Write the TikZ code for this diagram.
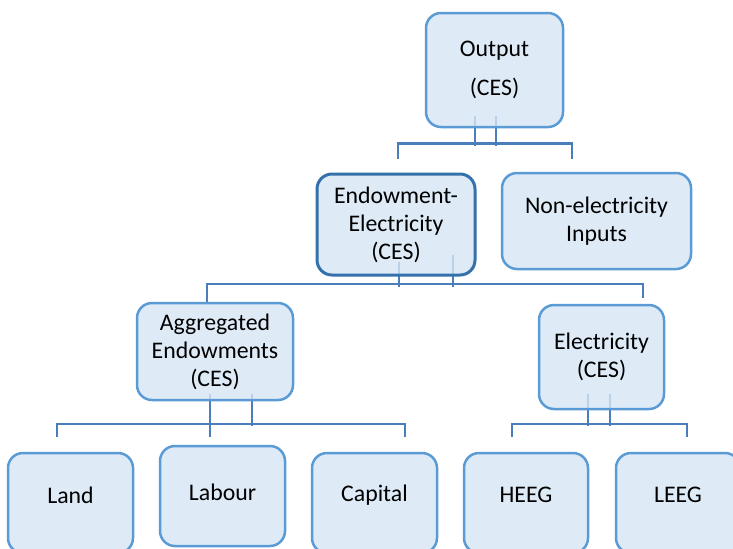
\documentclass[tikz,border=0pt]{standalone}
\usepackage{fontspec}
\setmainfont{Carlito}
\usepackage{xcolor}
\usepackage{tikz}
\usetikzlibrary{calc,backgrounds}

\definecolor{boxfill}{RGB}{214,230,245}
\definecolor{boxline}{RGB}{91,155,213}
\definecolor{boxdark}{RGB}{52,112,170}
\definecolor{linkcol}{RGB}{74,126,187}

\begin{document}
\begin{tikzpicture}[x=0.5pt, y=-0.5pt,
  every node/.style={font=\fontsize{11.9}{14}\selectfont},
  box/.style={draw=boxline, line width=1.25pt, fill=boxfill, fill opacity=0.8,
    text opacity=1, rounded corners=7.5pt, align=center, inner sep=0pt},
  link/.style={draw=linkcol, line width=1.25pt}]

%% ── Frame (pixel grid, y downwards) ──────────────────────────────────────────
\useasboundingbox (0,0) rectangle (733,548);
\clip (0,0) rectangle (733,548);

%% ── Level 1 and 2 ────────────────────────────────────────────────────────────
\node[box, minimum width=68.5pt, minimum height=57pt] (out) at (494.5,70)
  {Output\\[5.5pt](CES)};
\node[box, draw=boxdark, line width=1.5pt, minimum width=79pt, minimum height=50.5pt]
  (endel) at (396,224.5) {Endowment-\\Electricity\\(CES)};
\node[box, minimum width=94.5pt, minimum height=48pt] (nonel) at (596.5,221)
  {Non-electricity\\Inputs};

%% ── Level 3 ──────────────────────────────────────────────────────────────────
\node[box, minimum width=78pt, minimum height=48.5pt] (aggend) at (215,351.5)
  {Aggregated\\Endowments\\(CES)};
\node[box, minimum width=62.5pt, minimum height=52pt] (elec) at (601.5,357)
  {Electricity\\(CES)};

%% ── Level 4 (cut by the lower edge) ─────────────────────────────────────────
\node[box, minimum width=62.5pt, minimum height=50pt,
  label={[yshift=4pt]center:Land}] (land) at (70.5,503) {};
\node[box, minimum width=62.5pt, minimum height=50pt,
  label={[yshift=2pt]center:Labour}] (labour) at (222.5,496) {};
\node[box, minimum width=62.5pt, minimum height=50pt,
  label={[yshift=4pt]center:Capital}] (capital) at (374.5,503) {};
\node[box, minimum width=62pt, minimum height=50pt,
  label={[yshift=4pt]center:HEEG}] (heeg) at (526,503) {};
\node[box, minimum width=62pt, minimum height=50pt,
  label={[yshift=4pt]center:LEEG}] (leeg) at (678,503) {};

%% ── Connectors (behind the boxes) ───────────────────────────────────────────
\begin{scope}[on background layer]
  % output
  \draw[link] ($(out.south)+(-19.5,-12)$) -- ++(0,30);
  \draw[link] ($(out.south)+(1.5,-12)$) -- ++(0,30);
  \draw[link] ($(endel.north)+(2,-14)$) -- ++(0,-15) -| ($(nonel.north)+(-24.5,-13)$);
  % endowment-electricity
  \draw[link] ($(endel.south)+(3,-15)$) -- ++(0,25);
  \draw[link] ($(endel.south)+(57,-22)$) -- ++(0,32);
  \draw[link] ($(aggend.north)+(-8,0)$) -- ++(0,-18) -| ($(elec.north)+(41.5,-6)$);
  % aggregated endowments
  \draw[link] ($(aggend.south)+(-5,-7)$) -- ($(labour.north)+(-12.5,-8)$);
  \draw[link] ($(aggend.south)+(37,-7)$) -- ++(0,32);
  \draw[link] ($(land.north)+(-13.5,-15)$) -- ++(0,-13) -| ($(capital.north)+(30.5,-15)$);
  % electricity
  \draw[link] ($(elec.south)+(-13.5,-16)$) -- ++(0,32);
  \draw[link] ($(elec.south)+(8.5,-16)$) -- ++(0,32);
  \draw[link] ($(heeg.north)+(-14,-15)$) -- ++(0,-13) -| ($(leeg.north)+(9,-15)$);
\end{scope}

\end{tikzpicture}
\end{document}
